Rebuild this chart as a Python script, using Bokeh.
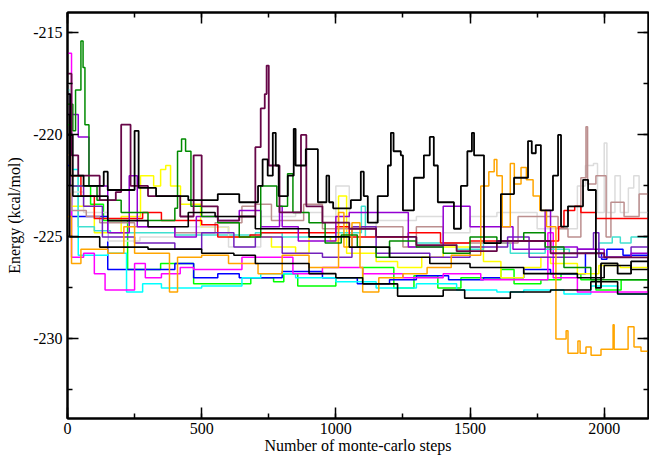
from bokeh.plotting import figure
from bokeh.models import Range1d, LinearAxis, SingleIntervalTicker, PrintfTickFormatter, CustomJSTickFormatter
from bokeh.embed import file_html
from bokeh.resources import INLINE

# ---- data: monte-carlo step (x) and energy in kcal/mol (y), step traces ----
green_x = [0, 10, 86, 134, 224, 347, 470, 683, 768, 806, 858, 1000, 1100, 1216, 1291, 1380, 1466, 1615, 1664, 1764, 1839, 1913, 1969, 2063, 2165]
green_y = [-219.5, -222.5, -223.4, -224.2, -226.6, -226.3, -227.3, -227.0, -227.2, -226.8, -227.4, -227.0, -226.5, -227.5, -226.9, -227.5, -227.0, -226.6, -227.3, -227.1, -226.8, -227.1, -227.6, -227.1, -227.1]

blue_x = [0, 15, 150, 400, 470, 560, 640, 800, 950, 1080, 1200, 1300, 1420, 1550, 1700, 1800, 1930, 1990, 2010, 2070, 2165]
blue_y = [-221.5, -224.0, -226.6, -226.3, -227.0, -226.8, -227.0, -226.7, -227.0, -227.3, -227.1, -226.9, -227.1, -227.0, -226.6, -226.8, -225.8, -226.1, -225.6, -225.9, -225.7]

yellow_x = [0, 10, 100, 200, 272, 321, 347, 366, 384, 421, 496, 600, 760, 850, 900, 980, 1010, 1040, 1150, 1230, 1320, 1400, 1550, 1615, 1700, 1764, 1800, 1900, 1980, 2060, 2165]
yellow_y = [-221.0, -223.5, -224.8, -224.0, -222.0, -222.5, -221.7, -221.5, -222.5, -223.4, -224.5, -225.0, -225.5, -225.8, -225.0, -225.2, -223.0, -225.8, -226.2, -226.5, -226.0, -225.5, -226.2, -227.0, -226.5, -226.0, -226.3, -226.8, -226.4, -226.5, -226.6]

cyan_x = [0, 10, 40, 150, 220, 280, 350, 500, 650, 720, 850, 1000, 1150, 1300, 1450, 1600, 1700, 1850, 1950, 2050, 2165]
cyan_y = [-218.5, -221.7, -225.9, -225.8, -227.7, -227.3, -227.5, -227.4, -227.0, -226.8, -227.0, -227.2, -227.5, -227.3, -227.6, -227.7, -227.6, -227.8, -227.4, -227.8, -227.7]

magenta_x = [0, 15, 60, 100, 140, 250, 290, 350, 420, 470, 650, 780, 840, 950, 1100, 1250, 1400, 1540, 1790, 1810, 1900, 2165]
magenta_y = [-216.0, -226.0, -225.8, -226.8, -227.6, -226.3, -227.0, -226.8, -226.5, -226.6, -226.0, -226.0, -226.8, -226.5, -226.8, -227.0, -226.8, -227.1, -224.8, -227.0, -227.7, -227.7]

turquoise_x = [0, 10, 40, 100, 160, 400, 700, 800, 1000, 1095, 1110, 1300, 1450, 1550, 1650, 1780, 1870, 1980, 2030, 2060, 2100, 2165]
turquoise_y = [-217.8, -222.0, -224.5, -224.7, -224.8, -224.9, -224.8, -225.0, -224.8, -223.5, -225.0, -225.3, -225.6, -225.3, -225.8, -225.6, -225.8, -225.3, -225.0, -225.3, -225.0, -225.0]

red_x = [0, 10, 50, 100, 280, 350, 500, 560, 680, 720, 850, 1000, 1050, 1270, 1390, 1500, 1830, 1850, 1890, 1913, 1969, 2165]
red_y = [-218.5, -222.0, -223.0, -224.1, -223.8, -224.2, -224.4, -225.0, -224.9, -224.8, -224.8, -224.5, -225.0, -224.8, -225.3, -225.2, -224.5, -223.7, -223.5, -223.8, -224.1, -224.1]

brown_x = [0, 15, 70, 120, 250, 400, 550, 650, 700, 760, 880, 950, 1150, 1250, 1300, 1400, 1540, 1679, 1828, 1865, 1913, 1932, 1938, 1969, 2007, 2025, 2074, 2130, 2165]
brown_y = [-221.0, -223.7, -224.0, -224.3, -224.5, -224.8, -224.3, -223.5, -223.4, -224.2, -223.4, -224.6, -224.5, -225.5, -224.5, -225.3, -225.3, -224.0, -224.6, -225.0, -222.1, -219.6, -222.4, -222.0, -225.0, -223.3, -224.0, -222.9, -224.0]

grey_x = [0, 10, 60, 150, 270, 400, 600, 720, 850, 950, 1000, 1050, 1150, 1300, 1400, 1500, 1600, 1750, 1900, 1930, 1960, 1975, 2000, 2010, 2040, 2060, 2090, 2110, 2130, 2165]
grey_y = [-217.5, -222.8, -223.8, -225.2, -225.0, -224.5, -225.5, -224.0, -223.8, -224.0, -222.5, -225.0, -224.2, -224.0, -224.8, -224.0, -223.8, -224.6, -222.5, -221.5, -221.4, -223.8, -220.4, -223.8, -222.0, -223.8, -222.6, -222.0, -223.8, -224.0]

indigo_x = [0, 10, 60, 130, 250, 400, 500, 620, 700, 800, 950, 1060, 1150, 1350, 1500, 1640, 1720, 1900, 1960, 1980, 2100, 2165]
indigo_y = [-218.0, -222.5, -223.5, -225.0, -225.3, -225.6, -224.8, -225.5, -225.0, -225.8, -226.0, -224.5, -225.8, -226.0, -225.5, -225.0, -226.0, -225.6, -224.8, -226.0, -225.5, -225.6]

violet_x = [0, 40, 80, 150, 230, 260, 400, 480, 560, 640, 720, 790, 800, 860, 1000, 1050, 1250, 1270, 1400, 1500, 1660, 1780, 1800, 1900, 2000, 2100, 2165]
violet_y = [-219.0, -220.1, -222.5, -224.8, -222.0, -224.5, -225.0, -224.0, -224.2, -223.7, -224.5, -223.5, -224.5, -225.2, -224.0, -223.8, -223.8, -225.5, -223.5, -224.5, -225.6, -223.7, -225.5, -225.6, -226.0, -225.8, -226.0]

orange_x = [0, 15, 50, 150, 210, 250, 380, 410, 500, 600, 710, 800, 900, 1010, 1030, 1060, 1090, 1100, 1160, 1250, 1340, 1430, 1540, 1570, 1590, 1600, 1620, 1650, 1665, 1690, 1710, 1735, 1760, 1785, 1820, 1858, 1865, 1902, 1910, 1932, 1951, 1988, 2033, 2037, 2089, 2111, 2137, 2165]
orange_y = [-224.0, -226.3, -225.6, -225.8, -224.5, -225.8, -227.7, -226.0, -225.9, -226.3, -226.8, -225.9, -226.5, -223.8, -225.5, -224.3, -226.5, -227.7, -227.0, -226.8, -226.5, -225.9, -222.5, -221.8, -221.2, -222.0, -224.5, -221.4, -222.4, -221.6, -222.2, -223.0, -223.7, -224.5, -230.0, -229.6, -230.7, -230.1, -230.7, -230.4, -230.8, -230.5, -229.3, -230.5, -229.4, -230.4, -230.6, -230.6]

green4_x = [0, 20, 30, 50, 58, 65, 80, 110, 200, 300, 400, 410, 425, 440, 460, 500, 560, 640, 720, 780, 820, 840, 900, 960, 1020, 1080, 1150, 1200, 1300, 1400, 1500, 1600, 1700, 1780, 1850, 1950, 2165]
green4_y = [-218.5, -219.8, -217.8, -215.4, -216.7, -219.5, -222.5, -223.2, -223.8, -224.2, -223.6, -220.8, -220.2, -220.8, -223.5, -224.0, -224.3, -225.0, -222.5, -223.5, -221.9, -223.8, -224.3, -225.3, -224.9, -225.5, -226.0, -225.2, -225.5, -225.8, -225.0, -225.2, -224.8, -225.5, -226.5, -227.1, -227.1]

maroon_x = [0, 15, 40, 120, 180, 200, 235, 300, 420, 470, 500, 560, 640, 700, 720, 735, 742, 750, 790, 870, 890, 950, 1050, 1150, 1300, 1450, 1600, 1800, 2000, 2165]
maroon_y = [-217.0, -221.0, -222.0, -223.2, -222.8, -219.5, -222.5, -223.0, -224.0, -221.0, -223.5, -224.2, -224.0, -220.6, -218.7, -218.0, -216.6, -221.5, -223.8, -220.0, -223.5, -224.3, -224.6, -225.0, -225.4, -225.7, -225.2, -225.8, -226.0, -226.2]

black_low_x = [0, 8, 120, 300, 500, 620, 700, 900, 1000, 1100, 1230, 1400, 1480, 1650, 1800, 1950, 2050, 2165]
black_low_y = [-219.0, -225.0, -225.5, -225.6, -225.8, -225.9, -226.3, -226.8, -227.0, -227.3, -227.9, -227.6, -228.0, -227.7, -227.6, -227.2, -227.8, -227.8]

black_mid_x = [0, 20, 150, 300, 450, 550, 700, 900, 1050, 1200, 1350, 1500, 1700, 1900, 2000, 2100, 2165]
black_mid_y = [-220.0, -223.0, -224.2, -224.5, -223.8, -224.0, -224.6, -225.0, -225.5, -226.0, -226.3, -226.5, -226.8, -227.0, -226.4, -226.6, -226.0]

black_high_x = [0, 10, 60, 135, 150, 250, 265, 330, 450, 560, 640, 710, 727, 746, 765, 776, 787, 821, 843, 850, 888, 933, 965, 975, 990, 1056, 1093, 1104, 1119, 1156, 1194, 1205, 1215, 1242, 1250, 1291, 1328, 1350, 1365, 1380, 1440, 1466, 1490, 1507, 1515, 1552, 1615, 1664, 1716, 1730, 1745, 1764, 1809, 1828, 1839, 1865, 1921, 1940, 1969, 1988, 2050, 2100, 2165]
black_high_y = [-218.0, -222.0, -222.5, -221.8, -222.7, -219.8, -222.6, -223.0, -223.2, -222.9, -223.3, -222.5, -221.2, -222.0, -219.9, -221.5, -223.0, -222.0, -219.7, -221.5, -220.7, -223.3, -222.0, -223.3, -223.6, -223.2, -221.8, -223.0, -224.3, -223.0, -221.5, -219.9, -220.8, -221.0, -223.7, -222.1, -221.0, -220.1, -221.5, -223.3, -224.6, -222.5, -220.8, -219.9, -221.0, -225.3, -222.9, -222.1, -220.3, -220.9, -220.5, -223.7, -222.0, -220.0, -224.5, -223.5, -222.2, -222.7, -227.5, -226.3, -226.8, -226.2, -226.5]

x_ticks_step = 500
y_ticks_step = 5

series = [
    (green_x, green_y, "#00ff00", 1.5),
    (blue_x, blue_y, "#0000ff", 1.5),
    (yellow_x, yellow_y, "#ffff00", 1.5),
    (cyan_x, cyan_y, "#00ffff", 1.5),
    (magenta_x, magenta_y, "#ff00ff", 1.5),
    (turquoise_x, turquoise_y, "#40e0d0", 1.5),
    (grey_x, grey_y, "#dcdcdc", 1.5),
    (brown_x, brown_y, "#bc8f8f", 1.5),
    (red_x, red_y, "#ff0000", 1.5),
    (indigo_x, indigo_y, "#7221bc", 1.5),
    (violet_x, violet_y, "#9400d3", 1.5),
    (orange_x, orange_y, "#ffa500", 1.5),
    (green4_x, green4_y, "#008b00", 1.5),
    (maroon_x, maroon_y, "#670748", 1.8),
    (black_low_x, black_low_y, "#000000", 1.6),
    (black_mid_x, black_mid_y, "#000000", 1.6),
    (black_high_x, black_high_y, "#000000", 1.8),
]

FONT = "Liberation Serif"

p = figure(width=649, height=456, output_backend="svg", toolbar_location=None,
           x_range=Range1d(0, 2165), y_range=Range1d(-233.9, -214.0),
           min_border_left=67, min_border_right=1, min_border_top=12, min_border_bottom=38,
           x_axis_label="Number of monte-carlo steps", y_axis_label="Energy (kcal/mol)")

for xs, ys, col, lw in series:
    p.step(xs, ys, mode="after", line_color=col, line_width=lw)

p.grid.visible = False
p.outline_line_color = "black"
p.outline_line_width = 2
p.background_fill_color = "white"
p.border_fill_color = "white"

p.xaxis.ticker = SingleIntervalTicker(interval=x_ticks_step, num_minor_ticks=2)
p.yaxis.ticker = SingleIntervalTicker(interval=y_ticks_step, num_minor_ticks=2)
p.xaxis.formatter = PrintfTickFormatter(format="%d")
p.yaxis.formatter = PrintfTickFormatter(format="%d")

for ax in p.xaxis + p.yaxis:
    ax.axis_line_width = 2
    ax.major_tick_in = 11
    ax.major_tick_out = 0
    ax.minor_tick_in = 5
    ax.minor_tick_out = 0
    ax.major_tick_line_width = 1.5
    ax.minor_tick_line_width = 1.5
    ax.major_label_text_font = FONT
    ax.major_label_text_font_size = "16px"
    ax.major_label_text_color = "black"
    ax.axis_label_text_font = FONT
    ax.axis_label_text_font_size = "16px"
    ax.axis_label_text_font_style = "normal"
    ax.axis_label_text_color = "black"

p.xaxis.major_label_standoff = 4
p.xaxis.axis_label_standoff = 0
p.yaxis.major_label_standoff = 5
p.yaxis.axis_label_standoff = 7

blank = CustomJSTickFormatter(code="return '';")
for loc, step in (("above", x_ticks_step), ("right", y_ticks_step)):
    ax = LinearAxis(ticker=SingleIntervalTicker(interval=step, num_minor_ticks=2),
                    formatter=blank, major_label_text_font_size="1px", major_label_standoff=0,
                    major_tick_in=11, major_tick_out=0, minor_tick_in=5, minor_tick_out=0,
                    axis_line_width=2, major_tick_line_width=1.5, minor_tick_line_width=1.5)
    p.add_layout(ax, loc)

open("out.html", "w").write(file_html(p, INLINE))
